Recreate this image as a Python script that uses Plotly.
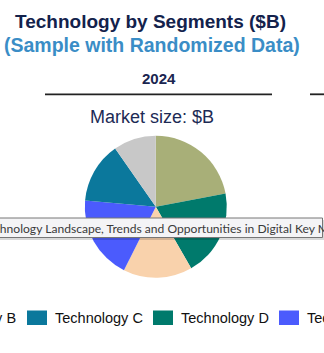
import plotly.graph_objects as go

W, H = 324, 353

# ---- data ----
slice_labels = ["Technology A", "Technology D", "Technology F", "Technology E", "Technology C", "Technology B"]
slice_values = [22.0, 19.7, 15.7, 19.0, 13.9, 9.7]
slice_colors = ["#A8AF78", "#007A6C", "#F9D2AC", "#4B5BFD", "#0B789C", "#C8C8C8"]

legend_labels = ["Technology A", "Technology B", "Technology C", "Technology D", "Technology E", "Technology F"]
legend_colors = ["#A8AF78", "#C8C8C8", "#0B789C", "#007A6C", "#4B5BFD", "#F9D2AC"]

title_text = "Technology by Segments ($B)"
subtitle_text = "(Sample with Randomized Data)"
year_label = "2024"
market_label = "Market size: $B"
tooltip_text = "Technology Landscape, Trends and Opportunities in Digital Key Market"


def px(x):
    return x / W


def py(y):
    return 1 - y / H


cx, cy, r = 155.8, 206.8, 71
fig = go.Figure(go.Pie(
    labels=slice_labels,
    values=slice_values,
    marker=dict(colors=slice_colors, line=dict(width=0)),
    sort=False,
    direction="clockwise",
    rotation=0,
    textinfo="none",
    hoverinfo="skip",
    showlegend=False,
    domain=dict(x=[px(cx - r), px(cx + r)], y=[py(cy + r), py(cy - r)]),
))

annotations = [
    dict(text="<b>" + title_text + "</b>", x=px(150), y=py(21), font=dict(size=19, color="#13224C", family="Liberation Sans, Arial")),
    dict(text="<b>" + subtitle_text + "</b>", x=px(151.5), y=py(44.5), font=dict(size=19.5, color="#3A8DC6", family="Liberation Sans, Arial")),
    dict(text="<b>" + year_label + "</b>", x=px(159), y=py(78.5), font=dict(size=15, color="#1A2550", family="Liberation Sans, Arial")),
    dict(text=market_label, x=px(152), y=py(117), font=dict(size=18, color="#1C2A55", family="Liberation Sans, Arial")),
]
for a in annotations:
    a.update(xref="paper", yref="paper", showarrow=False, xanchor="center", yanchor="middle")

shapes = [
    dict(type="line", xref="paper", yref="paper", x0=px(45), x1=px(272), y0=py(94.3), y1=py(94.3), line=dict(color="#222222", width=1.8)),
    dict(type="line", xref="paper", yref="paper", x0=px(310), x1=px(330), y0=py(94.3), y1=py(94.3), line=dict(color="#222222", width=1.8)),
    # tooltip shadow
    dict(type="rect", xref="paper", yref="paper", x0=px(-5), x1=px(325), y0=py(240), y1=py(220), layer="above",
         fillcolor="rgba(0,0,0,0.15)", line=dict(width=0)),
    # tooltip box
    dict(type="rect", xref="paper", yref="paper", x0=px(-5), x1=px(322.5), y0=py(237.5), y1=py(218), layer="above",
         fillcolor="#F4F4F6", line=dict(color="#767676", width=1)),
]

annotations.append(dict(text=tooltip_text, xref="paper", yref="paper", x=px(-20.5), y=py(228), xanchor="left", yanchor="middle",
                        showarrow=False, font=dict(size=12.1, color="#3A3A3A", family="Lato")))

# legend (squares + labels)
pitch = 126
for i, (lab, col) in enumerate(zip(legend_labels, legend_colors)):
    x0 = 27 + (i - 2) * pitch
    shapes.append(dict(type="rect", xref="paper", yref="paper", x0=px(x0), x1=px(x0 + 20), y0=py(325), y1=py(310.5),
                       fillcolor=col, line=dict(width=0)))
    annotations.append(dict(text=lab, xref="paper", yref="paper", x=px(x0 + 25.5), y=py(318), xanchor="left", yanchor="middle",
                            showarrow=False, font=dict(size=14.5, color="#111111", family="Liberation Sans, Arial")))

fig.update_layout(
    width=W, height=H,
    margin=dict(l=0, r=0, t=0, b=0),
    paper_bgcolor="white", plot_bgcolor="white",
    annotations=annotations, shapes=shapes,
)

fig.write_html("out.html", config=dict(displayModeBar=False))
